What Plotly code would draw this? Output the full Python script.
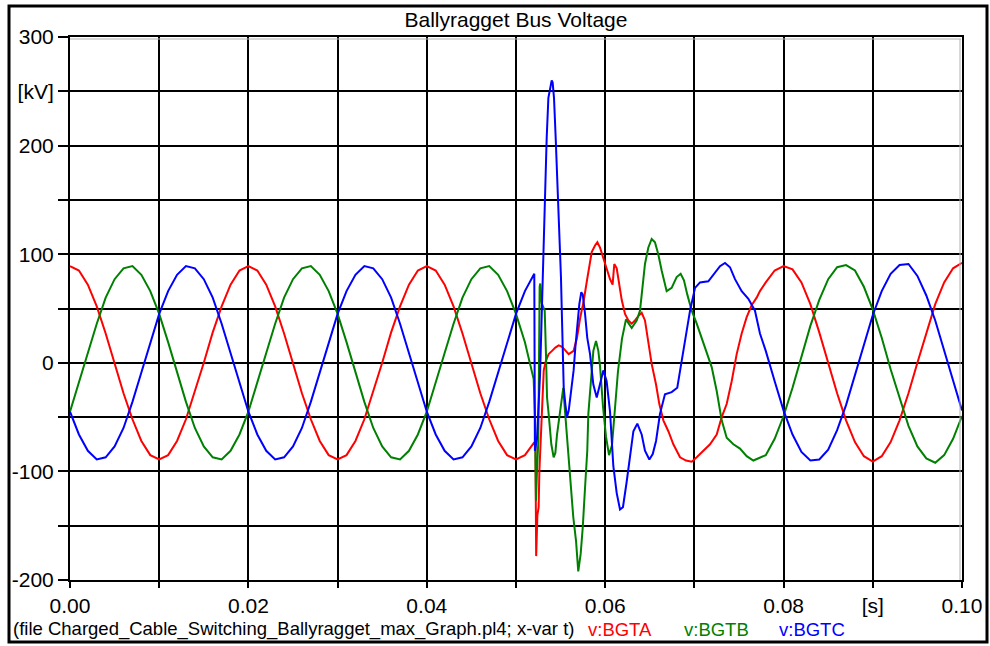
import plotly.graph_objects as go

# ---------------- data (kV vs s) ----------------
# steady-state part before the switching event, sampled every 1 ms (0.000 .. 0.051 s)
t_pre = [round(i * 0.001, 3) for i in range(52)]
red_pre = [89, 85, 72, 52, 27, 0, -28, -52, -72, -85, -89, -85, -72, -52, -27, 0, 28, 52, 72, 85,
           89, 85, 72, 52, 27, 0, -28, -52, -72, -85, -89, -85, -72, -52, -27, 0, 28, 52, 72, 85,
           89, 85, 72, 52, 27, 0, -28, -52, -72, -85, -89, -85]
green_pre = [-45, -19, 9, 36, 60, 77, 87, 89, 81, 66, 45, 19, -9, -36, -60, -77, -87, -89, -81, -66,
             -45, -19, 9, 36, 60, 77, 87, 89, 81, 66, 45, 19, -9, -36, -60, -77, -87, -89, -81, -66,
             -45, -19, 9, 36, 60, 77, 87, 89, 81, 66, 45, 19]
blue_pre = [-45, -66, -81, -89, -87, -77, -60, -36, -9, 19, 45, 66, 81, 89, 87, 77, 60, 36, 9, -19,
            -45, -66, -81, -89, -87, -77, -60, -36, -9, 19, 45, 66, 81, 89, 87, 77, 60, 36, 9, -19,
            -45, -66, -81, -89, -87, -77, -60, -36, -9, 19, 45, 66]

# transient part (read point by point)
t_tr_red = [0.05198, 0.05218, 0.05226, 0.05240, 0.05254, 0.05262, 0.05272, 0.05291, 0.05311, 0.05336,
            0.05366, 0.05404, 0.05441, 0.05479, 0.05512, 0.05535, 0.05591, 0.05646, 0.05684, 0.05721,
            0.05759, 0.05796, 0.05822, 0.05849, 0.05886, 0.05912, 0.05942, 0.05979, 0.06016, 0.06054,
            0.06083, 0.06102, 0.06129, 0.06155, 0.06185, 0.06222, 0.06260, 0.06297, 0.06334, 0.06371,
            0.06409, 0.06446, 0.06483, 0.06521, 0.06570, 0.06607, 0.06652, 0.06708, 0.06764, 0.06839,
            0.06906, 0.06970, 0.07026, 0.07100, 0.07175, 0.07250, 0.07306, 0.07362, 0.07418, 0.07474,
            0.07530, 0.07586, 0.07642, 0.07698, 0.07735]
v_tr_red = [-74, -76, -178, -140, -133, -100, -78, -44, -7, 2,
            8, 11, 14, 16, 15, 13, 8, 11, 23, 42,
            57, 76, 91, 102, 108, 111, 106, 97, 86, 77,
            72, 91, 87, 72, 58, 45, 39, 36, 39, 43,
            46, 39, 20, -1, -20, -38, -53, -63, -75, -87,
            -90, -91, -87, -81, -75, -66, -50, -38, -17, 8,
            27, 42, 53, 60, 66]

t_tr_green = [0.05198, 0.05213, 0.05224, 0.05235, 0.05250, 0.05265, 0.05272, 0.05288, 0.05306, 0.05322,
              0.05336, 0.05348, 0.05366, 0.05396, 0.05422, 0.05441, 0.05460, 0.05485, 0.05512, 0.05530,
              0.05549, 0.05586, 0.05613, 0.05642, 0.05673, 0.05698, 0.05725, 0.05748, 0.05774, 0.05799,
              0.05811, 0.05837, 0.05867, 0.05897, 0.05923, 0.05942, 0.05975, 0.06009, 0.06043, 0.06076,
              0.06110, 0.06143, 0.06188, 0.06233, 0.06297, 0.06353, 0.06390, 0.06420, 0.06446, 0.06483,
              0.06521, 0.06558, 0.06595, 0.06633, 0.06689, 0.06745, 0.06801, 0.06846, 0.06883, 0.06920,
              0.06970, 0.07026, 0.07082, 0.07138, 0.07194, 0.07250, 0.07306, 0.07362, 0.07437, 0.07511,
              0.07586, 0.07661, 0.07735]
v_tr_green = [-15, -50, -127, -100, -72, 70, 73, 55, 51, 48,
              8, -32, -47, -75, -87, -83, -66, -50, -32, -23,
              -44, -81, -112, -142, -164, -192, -176, -152, -115, -81,
              -47, -20, 11, 20, 11, -3, -40, -68, -85, -76,
              -40, -8, 22, 40, 32, 39, 48, 69, 91, 106,
              114, 111, 100, 85, 66, 69, 79, 82, 76, 63,
              48, 36, 23, 11, -4, -26, -53, -69, -75, -79,
              -86, -90, -87]

t_tr_blue = [0.05205, 0.05212, 0.05235, 0.05270, 0.05288, 0.05306, 0.05317, 0.05336, 0.05344, 0.05363,
             0.05389, 0.05400, 0.05411, 0.05426, 0.05445, 0.05467, 0.05485, 0.05504, 0.05516, 0.05523,
             0.05535, 0.05553, 0.05572, 0.05591, 0.05620, 0.05646, 0.05665, 0.05684, 0.05710, 0.05732,
             0.05748, 0.05774, 0.05799, 0.05830, 0.05867, 0.05905, 0.05942, 0.05979, 0.06016, 0.06054,
             0.06091, 0.06129, 0.06166, 0.06199, 0.06240, 0.06278, 0.06316, 0.06360, 0.06409, 0.06446,
             0.06495, 0.06533, 0.06570, 0.06614, 0.06670, 0.06745, 0.06808, 0.06846, 0.06895, 0.06951,
             0.07007, 0.07063, 0.07156, 0.07231, 0.07287, 0.07343, 0.07399, 0.07455, 0.07530, 0.07605,
             0.07679, 0.07735]
v_tr_blue = [82, -81, -70, -10, 42, 88, 143, 186, 207, 244,
             257, 260, 258, 244, 207, 161, 125, 79, 39, 2,
             -23, -38, -50, -44, -26, -7, 14, 32, 54, 65,
             63, 45, 23, 8, -20, -32, -18, -7, -17, -45,
             -95, -120, -135, -133, -110, -84, -63, -56, -66, -81,
             -89, -84, -72, -47, -29, -27, -23, -4, 20, 48,
             69, 74, 75, 83, 89, 92, 88, 77, 66, 59,
             48, 27]

# steady-state part after the transient, every 1 ms (0.078 .. 0.100 s)
t_post = [round(0.078 + i * 0.001, 3) for i in range(23)]
red_post = [74, 85, 89, 86, 74, 54, 28, 0, -28, -53, -73, -86, -91, -86, -73, -53, -28, 0, 28, 54, 74, 87, 92]
green_post = [-85, -70, -49, -23, 6, 34, 58, 77, 88, 90, 85, 70, 49, 23, -6, -33, -58, -77, -88, -92, -85, -70, -49]
blue_post = [11, -17, -44, -66, -82, -90, -89, -80, -62, -39, -11, 17, 44, 66, 82, 90, 91, 80, 62, 39, 11, -17, -44]

x_tickvals = [0.0, 0.01, 0.02, 0.03, 0.04, 0.05, 0.06, 0.07, 0.08, 0.09, 0.10]
x_ticktext = ["0.00", "", "0.02", "", "0.04", "", "0.06", "", "0.08", "[s]", "0.10"]
y_tickvals = [-200, -150, -100, -50, 0, 50, 100, 150, 200, 250, 300]
y_ticktext = ["-200", "", "-100", "", "0", "", "100", "", "200", "[kV]", "300"]

# ---------------- figure ----------------
W, H = 990, 646
PL, PR, PT, PB = 70, 962, 37, 580   # plot area in window pixels

FONT = "Liberation Sans, Arial, sans-serif"
fig = go.Figure()
series = [
    ("v:BGTA", "#FF0000", red_pre, t_tr_red, v_tr_red, red_post),
    ("v:BGTB", "#008000", green_pre, t_tr_green, v_tr_green, green_post),
    ("v:BGTC", "#0000FF", blue_pre, t_tr_blue, v_tr_blue, blue_post),
]
for name, col, pre, ttr, vtr, post in series:
    fig.add_trace(go.Scatter(
        x=t_pre + ttr + t_post, y=pre + vtr + post,
        mode="lines", name=name, line=dict(color=col, width=2),
        showlegend=False, hoverinfo="skip"))

fig.update_layout(
    template="none",
    width=W, height=H,
    margin=dict(l=PL, r=W - PR, t=PT, b=H - PB, autoexpand=False),
    paper_bgcolor="white", plot_bgcolor="white",
    font=dict(family=FONT, color="black", size=21),
    title=dict(text="Ballyragget Bus Voltage", x=(PL + PR) / 2 / W, xanchor="center",
               y=1 - 20 / H, yanchor="middle", yref="container",
               font=dict(family=FONT, size=21, color="black")),
)
fig.update_xaxes(range=[0, 0.1], tickvals=x_tickvals, ticktext=x_ticktext, automargin=False,
                 showgrid=True, gridcolor="black", gridwidth=2,
                 showline=True, linecolor="black", linewidth=2, mirror=True,
                 ticks="outside", ticklen=6, tickwidth=2, tickcolor="black",
                 zeroline=False, tickfont=dict(size=21, family=FONT))
fig.update_yaxes(range=[-200, 300], tickvals=y_tickvals, ticktext=y_ticktext, automargin=False,
                 showgrid=True, gridcolor="black", gridwidth=2,
                 showline=True, linecolor="black", linewidth=2, mirror=True,
                 ticks="outside", ticklen=10, tickwidth=2, tickcolor="black",
                 zeroline=False, tickfont=dict(size=21, family=FONT))

pw, ph = float(PR - PL), float(PB - PT)
def px_x(p):
    return (p - PL) / pw
def px_y(p):
    return (PB - p) / ph

# outer frame of the whole chart
fig.add_shape(type="rect", xref="paper", yref="paper",
              x0=px_x(9), x1=px_x(987), y0=px_y(642), y1=px_y(6),
              line=dict(color="black", width=3), fillcolor="rgba(0,0,0,0)", layer="above")
# light grey shading along the inner side of the top and right plot edges
fig.add_shape(type="line", xref="paper", yref="paper",
              x0=px_x(70), x1=px_x(961), y0=px_y(39), y1=px_y(39),
              line=dict(color="#b0b0b0", width=1), layer="above")
fig.add_shape(type="line", xref="paper", yref="paper",
              x0=px_x(960), x1=px_x(960), y0=px_y(39), y1=px_y(580),
              line=dict(color="#b0b0b0", width=1), layer="above")

# footer texts
footer = [
    ("(file Charged_Cable_Switching_Ballyragget_max_Graph.pl4; x-var t)", "black", 11),
    ("v:BGTA", "#FF0000", 586),
    ("v:BGTB", "#008000", 682),
    ("v:BGTC", "#0000FF", 777),
]
for txt, col, xp in footer:
    fig.add_annotation(text=txt, xref="paper", yref="paper", x=px_x(xp), y=px_y(629),
                       xanchor="left", yanchor="middle", showarrow=False,
                       font=dict(family=FONT, size=18.5, color=col))

fig.write_html("out.html",
               config={"displayModeBar": False, "staticPlot": True},
               post_script="document.body.style.margin='0';document.body.style.overflow='hidden';")
